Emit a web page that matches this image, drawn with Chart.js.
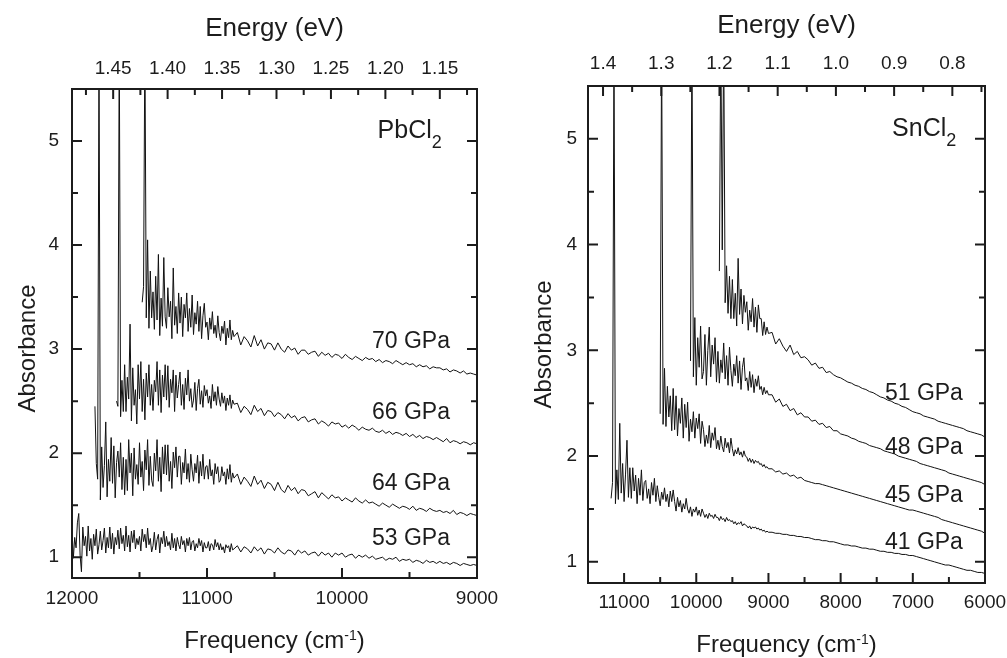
<!DOCTYPE html>
<html>
<head>
<meta charset="utf-8">
<script src="https://cdn.jsdelivr.net/npm/chart.js@4"></script>
<style>
  html, body { margin: 0; padding: 0; background: #fff; }
  #wrap { position: relative; width: 1007px; height: 658px; }
  canvas { position: absolute; top: 0; }
  #pb { left: 0; }
  #sn { left: 500px; }
</style>
</head>
<body>
<div id="wrap">
  <canvas id="pb" width="500" height="658"></canvas>
  <canvas id="sn" width="507" height="658"></canvas>
</div>
<script>
const CM_PER_EV = 8065.54
const INK = '#1c1c1c'
const FAMILY = '"Liberation Sans", Arial, Helvetica, sans-serif'
Chart.defaults.font.family = FAMILY
Chart.defaults.color = INK

// ---- PbCl2 panel: frequency grid (cm-1), finer where the spectra are noisy ----
const freqPb = [
  12000, 11990, 11980, 11970, 11960, 11950, 11940, 11930, 11920, 11910,
  11900, 11890, 11880, 11870, 11860, 11850, 11840, 11830, 11820, 11810,
  11800, 11790, 11780, 11770, 11760, 11750, 11740, 11730, 11720, 11710,
  11700, 11690, 11680, 11670, 11660, 11650, 11640, 11630, 11620, 11610,
  11600, 11590, 11580, 11570, 11560, 11550, 11540, 11530, 11520, 11510,
  11500, 11490, 11480, 11470, 11460, 11450, 11440, 11430, 11420, 11410,
  11400, 11390, 11380, 11370, 11360, 11350, 11340, 11330, 11320, 11310,
  11300, 11290, 11280, 11270, 11260, 11250, 11240, 11230, 11220, 11210,
  11200, 11190, 11180, 11170, 11160, 11150, 11140, 11130, 11120, 11110,
  11100, 11090, 11080, 11070, 11060, 11050, 11040, 11030, 11020, 11010,
  11000, 10990, 10980, 10970, 10960, 10950, 10940, 10930, 10920, 10910,
  10900, 10890, 10880, 10870, 10860, 10850, 10840, 10830, 10820, 10810,
  10800,
  10775, 10750, 10725, 10700, 10675, 10650, 10625, 10600, 10575, 10550,
  10525, 10500, 10475, 10450, 10425, 10400, 10375, 10350, 10325, 10300,
  10275, 10250, 10225, 10200, 10175, 10150, 10125, 10100, 10075, 10050,
  10025, 10000, 9975, 9950, 9925, 9900, 9875, 9850, 9825, 9800,
  9775, 9750, 9725, 9700, 9675, 9650, 9625, 9600, 9575, 9550,
  9525, 9500, 9475, 9450, 9425, 9400, 9375, 9350, 9325, 9300,
  9275, 9250, 9225, 9200, 9175, 9150, 9125, 9100, 9075, 9050,
  9025, 9000
]
// absorbance; every series ends at 9000 cm-1 and starts where its values run out
const pb53 = [
  1.27, 0.99, 1.19, 1.09, 1.33, 1.42, 1.02, 0.86, 1.29, 1.11,
  1.2, 1.01, 1.3, 1.06, 1.18, 0.98, 1.22, 1.11, 1.27, 1.03,
  1.12, 1.25, 1.07, 1.16, 1.28, 1.04, 1.19, 1.09, 1.29, 1.08,
  1.23, 1.03, 1.19, 1.12, 1.26, 1.08, 1.28, 1.13, 1.21, 1.06,
  1.3, 1.1, 1.21, 1.05, 1.25, 1.14, 1.26, 1.08, 1.18, 1.12,
  1.2, 1.06, 1.27, 1.15, 1.22, 1.09, 1.28, 1.12, 1.18, 1.05,
  1.11, 1.24, 1.07, 1.17, 1.22, 1.04, 1.19, 1.13, 1.25, 1.1,
  1.2, 1.11, 1.15, 1.07, 1.23, 1.09, 1.18, 1.06, 1.19, 1.12,
  1.08, 1.2, 1.12, 1.16, 1.05, 1.18, 1.11, 1.19, 1.07, 1.15,
  1.16, 1.06, 1.13, 1.09, 1.18, 1.11, 1.16, 1.05, 1.14, 1.09,
  1.09, 1.15, 1.06, 1.13, 1.12, 1.07, 1.17, 1.1, 1.14, 1.07,
  1.13, 1.07, 1.1, 1.04, 1.12, 1.09, 1.11, 1.05, 1.13, 1.07,
  1.08,
  1.11, 1.05, 1.1, 1.08, 1.04, 1.1, 1.06, 1.09, 1.03, 1.08,
  1.07, 1.04, 1.09, 1.05, 1.03, 1.07, 1.06, 1.02, 1.07, 1.04,
  1.06, 1.02, 1.04, 1.05, 1.01, 1.05, 1.02, 1.04, 1.0, 1.04,
  1.02, 1.04, 1.0, 1.02, 1.03, 0.99, 1.02, 1.0, 1.02, 0.99,
  1.01, 0.98, 0.99, 1.0, 0.97, 0.99, 0.98, 1.0, 0.96, 0.98,
  0.97, 0.98, 0.95, 0.97, 0.96, 0.94, 0.97, 0.95, 0.96, 0.94,
  0.96, 0.94, 0.95, 0.93, 0.95, 0.94, 0.92, 0.94, 0.93, 0.92,
  0.93, 0.92
]
const pb64 = [
  2.45, 1.9, 1.75,
  6.0, 1.55, 2.06, 1.67, 1.88, 2.3, 1.58, 1.94, 1.73, 2.15,
  1.71, 2.07, 1.57, 1.91, 2.02, 1.77, 2.1, 1.65, 1.96, 1.6,
  1.94, 1.64, 2.13, 1.81, 2.0, 1.59, 2.05, 1.75, 1.89, 1.7,
  2.1, 1.77, 1.92, 1.64, 2.03, 1.84, 2.13, 1.69, 1.97, 1.74,
  1.68, 2.0, 1.83, 2.13, 1.73, 1.96, 1.63, 2.06, 1.8, 2.08,
  1.79, 2.08, 1.73, 1.92, 1.66, 2.01, 1.86, 2.06, 1.77, 1.97,
  1.97, 1.7, 1.91, 1.81, 2.04, 1.75, 1.9, 1.72, 1.99, 1.84,
  1.73, 1.9, 1.81, 1.98, 1.71, 1.92, 1.78, 1.99, 1.75, 1.87,
  1.88, 1.75, 1.94, 1.78, 1.84, 1.7, 1.9, 1.8, 1.87, 1.72,
  1.74, 1.87, 1.78, 1.82, 1.7, 1.85, 1.75, 1.89, 1.72, 1.81,
  1.76,
  1.8, 1.7, 1.77, 1.73, 1.68, 1.78, 1.7, 1.74, 1.66, 1.72,
  1.7, 1.64, 1.72, 1.65, 1.62, 1.69, 1.64, 1.67, 1.61, 1.65,
  1.64, 1.59, 1.61, 1.63, 1.57, 1.62, 1.59, 1.56, 1.6, 1.57,
  1.58, 1.54, 1.57, 1.55, 1.53, 1.57, 1.54, 1.52, 1.55, 1.52,
  1.53, 1.51, 1.49, 1.52, 1.5, 1.48, 1.51, 1.49, 1.47, 1.49,
  1.48, 1.46, 1.49, 1.45, 1.47, 1.46, 1.44, 1.47, 1.45, 1.44,
  1.45, 1.43, 1.44, 1.42, 1.45, 1.41, 1.43, 1.42, 1.4, 1.42,
  1.41, 1.4
]
const pb66 = [
  2.5, 2.45, 6.0, 2.35, 2.7, 2.4, 2.85,
  2.4, 2.73, 2.52, 3.24, 2.31, 2.82, 2.46, 2.61, 2.28, 2.85,
  2.52, 2.88, 2.4, 2.71, 2.32, 2.77, 2.54, 2.85, 2.46, 2.66,
  2.41, 2.7, 2.59, 2.88, 2.46, 2.8, 2.39, 2.75, 2.54, 2.85,
  2.51, 2.84, 2.44, 2.71, 2.58, 2.8, 2.4, 2.75, 2.53, 2.66,
  2.78, 2.46, 2.66, 2.42, 2.72, 2.56, 2.8, 2.5, 2.62, 2.44,
  2.51, 2.68, 2.41, 2.62, 2.71, 2.47, 2.6, 2.44, 2.65, 2.55,
  2.61, 2.48, 2.55, 2.43, 2.66, 2.5, 2.59, 2.46, 2.64, 2.52,
  2.45, 2.58, 2.48, 2.55, 2.41, 2.53, 2.46, 2.56, 2.43, 2.51,
  2.47,
  2.48, 2.39, 2.45, 2.42, 2.37, 2.46, 2.4, 2.43, 2.36, 2.41,
  2.4, 2.35, 2.39, 2.37, 2.33, 2.38, 2.34, 2.36, 2.31, 2.34,
  2.35, 2.3, 2.32, 2.33, 2.28, 2.31, 2.29, 2.26, 2.3, 2.28,
  2.29, 2.25, 2.27, 2.24, 2.27, 2.25, 2.22, 2.25, 2.23, 2.22,
  2.24, 2.21, 2.2, 2.22, 2.19, 2.21, 2.18, 2.2, 2.19, 2.17,
  2.19, 2.16, 2.18, 2.15, 2.17, 2.14, 2.16, 2.15, 2.13, 2.15,
  2.13, 2.11, 2.14, 2.1, 2.12, 2.11, 2.09, 2.11, 2.1, 2.08,
  2.1, 2.09
]
const pb70 = [
  3.45, 3.6, 6.0, 3.3, 4.05, 3.2, 3.75, 3.3,
  3.55, 3.19, 3.7, 3.28, 3.91, 3.13, 3.49, 3.22, 3.88, 3.31,
  3.2, 3.59, 3.31, 3.46, 3.1, 3.78, 3.23, 3.41, 3.15, 3.54,
  3.25, 3.5, 3.12, 3.43, 3.3, 3.54, 3.17, 3.39, 3.21, 3.52,
  3.14, 3.35, 3.24, 3.46, 3.17, 3.41, 3.1, 3.32, 3.44, 3.21,
  3.26, 3.09, 3.3, 3.19, 3.36, 3.15, 3.23, 3.11, 3.32, 3.16,
  3.08, 3.22, 3.15, 3.27, 3.04, 3.2, 3.11, 3.28, 3.09, 3.18,
  3.12,
  3.16, 3.04, 3.12, 3.08, 3.02, 3.13, 3.03, 3.09, 3.0, 3.06,
  3.05, 2.99, 3.06, 3.0, 2.97, 3.03, 2.99, 3.01, 2.95, 2.99,
  2.99, 2.95, 2.97, 2.98, 2.93, 2.97, 2.94, 2.96, 2.92, 2.95,
  2.94, 2.91, 2.95, 2.92, 2.9, 2.93, 2.91, 2.89, 2.92, 2.9,
  2.91, 2.88, 2.9, 2.87, 2.89, 2.88, 2.86, 2.89, 2.87, 2.85,
  2.87, 2.85, 2.86, 2.83, 2.85, 2.83, 2.84, 2.81, 2.83, 2.82,
  2.82, 2.8, 2.81, 2.78, 2.8, 2.79, 2.77, 2.79, 2.76, 2.77,
  2.76, 2.75
]
const pbFreqTicks = [12000, 11000, 10000, 9000]
const pbFreqMinor = [11500, 10500, 9500]
const pbEnergyTicks = [1.45, 1.40, 1.35, 1.30, 1.25, 1.20, 1.15]
const pbEnergyMinor = [1.475, 1.425, 1.375, 1.325, 1.275, 1.225, 1.175, 1.125]

// ---- SnCl2 panel ----
const freqSn = [
  11500, 11480, 11460, 11440, 11420, 11400, 11380, 11360, 11340, 11320,
  11300, 11280, 11260, 11240, 11220, 11200, 11180, 11160, 11140, 11120,
  11100, 11080, 11060, 11040, 11020, 11000, 10980, 10960, 10940, 10920,
  10900, 10880, 10860, 10840, 10820, 10800, 10780, 10760, 10740, 10720,
  10700, 10680, 10660, 10640, 10620, 10600, 10580, 10560, 10540, 10520,
  10500, 10480, 10460, 10440, 10420, 10400, 10380, 10360, 10340, 10320,
  10300, 10280, 10260, 10240, 10220, 10200, 10180, 10160, 10140, 10120,
  10100, 10080, 10060, 10040, 10020, 10000, 9980, 9960, 9940, 9920,
  9900, 9880, 9860, 9840, 9820, 9800, 9780, 9760, 9740, 9720,
  9700, 9680, 9660, 9640, 9620, 9600, 9580, 9560, 9540, 9520,
  9500, 9480, 9460, 9440, 9420, 9400, 9380, 9360, 9340, 9320,
  9300, 9280, 9260, 9240, 9220, 9200, 9180, 9160, 9140, 9120,
  9100, 9080, 9060, 9040, 9020,
  9000,
  8950, 8900, 8850, 8800, 8750, 8700, 8650, 8600, 8550, 8500,
  8450, 8400, 8350, 8300, 8250, 8200, 8150, 8100, 8050, 8000,
  7950, 7900, 7850, 7800, 7750, 7700, 7650, 7600, 7550, 7500,
  7450, 7400, 7350, 7300, 7250, 7200, 7150, 7100, 7050, 7000,
  6950, 6900, 6850, 6800, 6750, 6700, 6650, 6600, 6550, 6500,
  6450, 6400, 6350, 6300, 6250, 6200, 6150, 6100, 6050, 6000
]
const sn41 = [
  1.6, 1.75, 6.0, 1.55,
  1.87, 1.59, 2.31, 1.65, 1.93, 1.57, 1.83, 2.15, 1.61, 1.89,
  1.6, 1.89, 1.67, 1.82, 1.55, 1.79, 1.63, 1.87, 1.58, 1.75,
  1.77, 1.6, 1.69, 1.55, 1.75, 1.63, 1.79, 1.57, 1.72, 1.61,
  1.53, 1.66, 1.59, 1.7, 1.57, 1.64, 1.52, 1.67, 1.57, 1.68,
  1.57, 1.48, 1.61, 1.52, 1.58, 1.47, 1.55, 1.5, 1.6, 1.5,
  1.46, 1.52, 1.43, 1.5, 1.47, 1.52, 1.44, 1.49, 1.43, 1.5,
  1.46, 1.42, 1.45, 1.41, 1.46, 1.43, 1.44, 1.41, 1.45, 1.42,
  1.42, 1.39, 1.43, 1.4, 1.41, 1.38, 1.42, 1.39, 1.4, 1.38,
  1.39, 1.36, 1.38, 1.35, 1.37, 1.36, 1.38, 1.34, 1.36, 1.35,
  1.34, 1.32, 1.34, 1.31, 1.33, 1.32, 1.33, 1.31, 1.32, 1.3,
  1.31, 1.29, 1.3, 1.28, 1.29,
  1.28,
  1.28, 1.27, 1.27, 1.26, 1.26, 1.25, 1.25, 1.24, 1.24, 1.23,
  1.23, 1.22, 1.21, 1.21, 1.2, 1.2, 1.19, 1.19, 1.18, 1.17,
  1.16, 1.16, 1.15, 1.15, 1.14, 1.13, 1.13, 1.12, 1.12, 1.11,
  1.1, 1.1, 1.09, 1.09, 1.08, 1.08, 1.07, 1.07, 1.06, 1.06,
  1.05, 1.04, 1.03, 1.02, 1.01, 1.0, 0.99, 0.98, 0.97, 0.97,
  0.96, 0.95, 0.94, 0.93, 0.92, 0.92, 0.91, 0.9, 0.9, 0.89
]
const sn45 = [
  2.4, 6.0, 2.3, 2.83, 2.28, 2.66, 2.37, 2.57, 2.24, 2.64,
  2.25, 2.57, 2.19, 2.45, 2.31, 2.55, 2.17, 2.49, 2.27, 2.51,
  2.14, 2.35, 2.23, 2.42, 2.17, 2.36, 2.26, 2.4, 2.12, 2.33,
  2.25, 2.09, 2.2, 2.12, 2.29, 2.08, 2.22, 2.15, 2.27, 2.07,
  2.15, 2.06, 2.19, 2.09, 2.04, 2.17, 2.08, 2.13, 2.03, 2.17,
  2.07, 2.0, 2.06, 2.02, 2.08, 2.01, 2.04, 1.99, 2.05, 2.0,
  1.99, 1.95, 1.98, 1.94, 1.97, 1.93, 1.96, 1.94, 1.95, 1.92,
  1.93, 1.9, 1.92, 1.89, 1.9,
  1.88,
  1.88, 1.85, 1.86, 1.83, 1.84, 1.81, 1.82, 1.79, 1.8, 1.77,
  1.76, 1.75, 1.74, 1.74, 1.73, 1.72, 1.71, 1.7, 1.69, 1.68,
  1.67, 1.66, 1.65, 1.64, 1.63, 1.62, 1.61, 1.6, 1.59, 1.58,
  1.57, 1.56, 1.55, 1.54, 1.53, 1.52, 1.51, 1.5, 1.49, 1.49,
  1.48, 1.47, 1.46, 1.45, 1.44, 1.43, 1.42, 1.4, 1.39, 1.38,
  1.37, 1.36, 1.35, 1.34, 1.33, 1.32, 1.31, 1.3, 1.29, 1.27
]
const sn48 = [
  2.9, 6.0, 2.75, 3.31, 2.67, 3.12, 2.84, 3.23, 2.73,
  2.8, 3.15, 2.67, 3.0, 3.22, 2.75, 3.05, 2.87, 3.12, 2.7,
  2.99, 2.69, 2.91, 2.79, 3.07, 2.73, 2.95, 2.67, 3.03, 2.81,
  2.66, 2.87, 2.76, 2.95, 2.69, 2.9, 2.63, 2.84, 2.93, 2.71,
  2.74, 2.62, 2.8, 2.65, 2.77, 2.6, 2.73, 2.66, 2.76, 2.63,
  2.66, 2.58, 2.65, 2.59, 2.62,
  2.58,
  2.58, 2.51, 2.54, 2.47, 2.49, 2.43, 2.45, 2.39, 2.41, 2.37,
  2.37, 2.33, 2.34, 2.3, 2.31, 2.27, 2.28, 2.24, 2.24, 2.21,
  2.2, 2.19, 2.17, 2.16, 2.14, 2.13, 2.12, 2.1, 2.09, 2.08,
  2.07, 2.05, 2.04, 2.03, 2.02, 2.0, 1.99, 1.98, 1.97, 1.96,
  1.95, 1.93, 1.92, 1.91, 1.9, 1.89, 1.88, 1.87, 1.86, 1.84,
  1.83, 1.82, 1.81, 1.8, 1.79, 1.78, 1.77, 1.76, 1.75, 1.73
]
const sn51 = [
  3.75, 6.0, 3.95, 6.0, 3.45, 3.8, 3.35, 3.7, 3.3,
  3.67, 3.3, 3.54, 3.23, 3.87, 3.34, 3.58, 3.25, 3.52, 3.36,
  3.46, 3.19, 3.38, 3.27, 3.49, 3.22, 3.41, 3.17, 3.43, 3.3,
  3.3, 3.14, 3.27, 3.15, 3.22,
  3.16,
  3.17, 3.06, 3.11, 3.04, 2.99, 3.05, 2.96, 2.99, 2.93, 2.94,
  2.91, 2.86, 2.88, 2.83, 2.84, 2.79, 2.8, 2.77, 2.75, 2.74,
  2.72, 2.7, 2.69, 2.67, 2.66, 2.64, 2.63, 2.61, 2.6, 2.58,
  2.56, 2.55, 2.53, 2.52, 2.5, 2.49, 2.47, 2.46, 2.44, 2.42,
  2.41, 2.4, 2.38, 2.37, 2.36, 2.35, 2.33, 2.32, 2.31, 2.3,
  2.29, 2.28, 2.27, 2.26, 2.24, 2.23, 2.22, 2.21, 2.2, 2.18
]
const snFreqTicks = [11000, 10000, 9000, 8000, 7000, 6000]
const snFreqMinor = [11500, 10500, 9500, 8500, 7500, 6500]
const snEnergyTicks = [1.4, 1.3, 1.2, 1.1, 1.0, 0.9, 0.8]
const snEnergyMinor = [1.35, 1.25, 1.15, 1.05, 0.95, 0.85, 0.75]

const absTicks = [1, 2, 3, 4, 5]
const absMinor = [1.5, 2.5, 3.5, 4.5]

function toPoints(freq, values) {
  const off = freq.length - values.length
  return values.map((y, i) => ({ x: freq[off + i], y: y }))
}

// text with super/subscripts: parts = [[text, kind]], kind 1 = sup, -1 = sub
function drawRich(ctx, parts, x, y, size, align) {
  const sizeFor = k => k > 0 ? Math.round(size * 0.6) : k < 0 ? Math.round(size * 0.72) : size
  let w = 0
  parts.forEach(([t, k]) => {
    ctx.font = sizeFor(k) + 'px ' + FAMILY
    w += ctx.measureText(t).width
  })
  let cx = align === 'right' ? x - w : align === 'center' ? x - w / 2 : x
  ctx.textAlign = 'left'
  ctx.textBaseline = 'alphabetic'
  parts.forEach(([t, k]) => {
    ctx.font = sizeFor(k) + 'px ' + FAMILY
    const dy = k > 0 ? -size * 0.34 : k < 0 ? size * 0.4 : 0
    ctx.fillText(t, cx, y + dy)
    cx += ctx.measureText(t).width
  })
}

// frame with inward ticks on all four sides
const frame = {
  id: 'frame',
  afterDraw(chart, args, o) {
    const { ctx, chartArea: a } = chart
    const sx = chart.scales.x
    const sy = chart.scales.y
    ctx.save()
    ctx.strokeStyle = INK
    ctx.lineWidth = 2
    ctx.strokeRect(a.left, a.top, a.right - a.left, a.bottom - a.top)
    ctx.beginPath()
    const seg = (x1, y1, x2, y2) => { ctx.moveTo(x1, y1); ctx.lineTo(x2, y2) }
    const bottom = (vals, len) => vals.forEach(v => {
      const p = sx.getPixelForValue(v); seg(p, a.bottom, p, a.bottom - len)
    })
    const top = (vals, len) => vals.forEach(e => {
      const p = sx.getPixelForValue(e * CM_PER_EV); seg(p, a.top, p, a.top + len)
    })
    const sides = (vals, len) => vals.forEach(v => {
      const p = sy.getPixelForValue(v)
      seg(a.left, p, a.left + len, p)
      seg(a.right, p, a.right - len, p)
    })
    bottom(o.xMajor, 10); bottom(o.xMinor, 6)
    top(o.eMajor, 10); top(o.eMinor, 6)
    sides(absTicks, 10); sides(absMinor, 6)
    ctx.stroke()
    ctx.restore()
  }
}

// axis titles, sample name and pressure labels
const texts = {
  id: 'texts',
  afterDraw(chart, args, o) {
    const { ctx, chartArea: a } = chart
    const sx = chart.scales.x
    const sy = chart.scales.y
    const cx = (a.left + a.right) / 2
    ctx.save()
    ctx.fillStyle = INK
    drawRich(ctx, [['Energy (eV)', 0]], cx, a.top - 53, 26, 'center')
    drawRich(ctx, [['Frequency (cm', 0], ['-1', 1], [')', 0]], cx, a.bottom + o.freqTitleDy, 24, 'center')
    ctx.save()
    ctx.translate(a.left - o.absTitleDx, (a.top + a.bottom) / 2 + o.absTitleDy)
    ctx.rotate(-Math.PI / 2)
    drawRich(ctx, [['Absorbance', 0]], 0, 0, 24, 'center')
    ctx.restore()
    drawRich(ctx, [[o.sample, 0], ['2', -1]], sx.getPixelForValue(o.sampleAt[0]), sy.getPixelForValue(o.sampleAt[1]), 25, 'right')
    o.labels.forEach(l => {
      drawRich(ctx, [[l.text, 0]], sx.getPixelForValue(l.x), sy.getPixelForValue(l.y), 23, 'right')
    })
    ctx.restore()
  }
}

function panel(id, p) {
  const tickFont = { size: 19 }
  return new Chart(document.getElementById(id), {
    type: 'line',
    data: {
      datasets: p.series.map(s => ({
        label: s.label,
        data: toPoints(p.freq, s.values),
        borderColor: '#111',
        borderWidth: 1,
        pointRadius: 0,
        fill: false,
        tension: 0
      }))
    },
    options: {
      responsive: false,
      animation: false,
      events: [],
      layout: { padding: { right: p.padRight } },
      scales: {
        x: {
          type: 'linear', position: 'bottom', reverse: true, min: p.min, max: p.max,
          grid: { display: false, drawTicks: false }, border: { display: false },
          ticks: { padding: p.xPad, font: tickFont, color: INK, maxRotation: 0, callback: v => String(v) },
          afterBuildTicks: s => { s.ticks = p.xMajor.map(v => ({ value: v })) },
          afterFit: s => { s.height = p.bottomH; s.paddingLeft = 0; s.paddingRight = 0 }
        },
        x2: {
          type: 'linear', position: 'top', reverse: true, min: p.min, max: p.max,
          grid: { display: false, drawTicks: false }, border: { display: false },
          ticks: { padding: p.x2Pad, font: tickFont, color: INK, maxRotation: 0,
            callback: v => (v / CM_PER_EV).toFixed(p.eDigits) },
          afterBuildTicks: s => { s.ticks = p.eMajor.map(e => ({ value: e * CM_PER_EV })) },
          afterFit: s => { s.height = p.topH; s.paddingLeft = 0; s.paddingRight = 0 }
        },
        y: {
          min: 0.8, max: 5.5,
          grid: { display: false, drawTicks: false }, border: { display: false },
          ticks: { padding: p.yPad, font: tickFont, color: INK, callback: v => String(v) },
          afterBuildTicks: s => { s.ticks = absTicks.map(v => ({ value: v })) },
          afterFit: s => { s.width = p.leftW }
        }
      },
      plugins: {
        legend: { display: false },
        tooltip: { enabled: false },
        frame: { xMajor: p.xMajor, xMinor: p.xMinor, eMajor: p.eMajor, eMinor: p.eMinor },
        texts: p.texts
      }
    },
    plugins: [frame, texts]
  })
}

panel('pb', {
  freq: freqPb, min: 9000, max: 12000,
  series: [
    { label: '53 GPa', values: pb53 },
    { label: '64 GPa', values: pb64 },
    { label: '66 GPa', values: pb66 },
    { label: '70 GPa', values: pb70 }
  ],
  xMajor: pbFreqTicks, xMinor: pbFreqMinor,
  eMajor: pbEnergyTicks, eMinor: pbEnergyMinor, eDigits: 2,
  leftW: 72, topH: 89, bottomH: 80, padRight: 23,
  xPad: 9, x2Pad: 9, yPad: 13,
  texts: {
    freqTitleDy: 70, absTitleDx: 37, absTitleDy: 15,
    sample: 'PbCl', sampleAt: [9261, 5.03],
    labels: [
      { text: '70 GPa', x: 9200, y: 3.01 },
      { text: '66 GPa', x: 9200, y: 2.33 },
      { text: '64 GPa', x: 9200, y: 1.644 },
      { text: '53 GPa', x: 9200, y: 1.12 }
    ]
  }
})

panel('sn', {
  freq: freqSn, min: 6000, max: 11500,
  series: [
    { label: '41 GPa', values: sn41 },
    { label: '45 GPa', values: sn45 },
    { label: '48 GPa', values: sn48 },
    { label: '51 GPa', values: sn51 }
  ],
  xMajor: snFreqTicks, xMinor: snFreqMinor,
  eMajor: snEnergyTicks, eMinor: snEnergyMinor, eDigits: 1,
  leftW: 88, topH: 86, bottomH: 75, padRight: 22,
  xPad: 8, x2Pad: 11, yPad: 11,
  texts: {
    freqTitleDy: 69, absTitleDx: 37, absTitleDy: 10,
    sample: 'SnCl', sampleAt: [6398, 5.025],
    labels: [
      { text: '51 GPa', x: 6306, y: 2.53 },
      { text: '48 GPa', x: 6306, y: 2.02 },
      { text: '45 GPa', x: 6306, y: 1.566 },
      { text: '41 GPa', x: 6306, y: 1.117 }
    ]
  }
})
</script>
</body>
</html>
